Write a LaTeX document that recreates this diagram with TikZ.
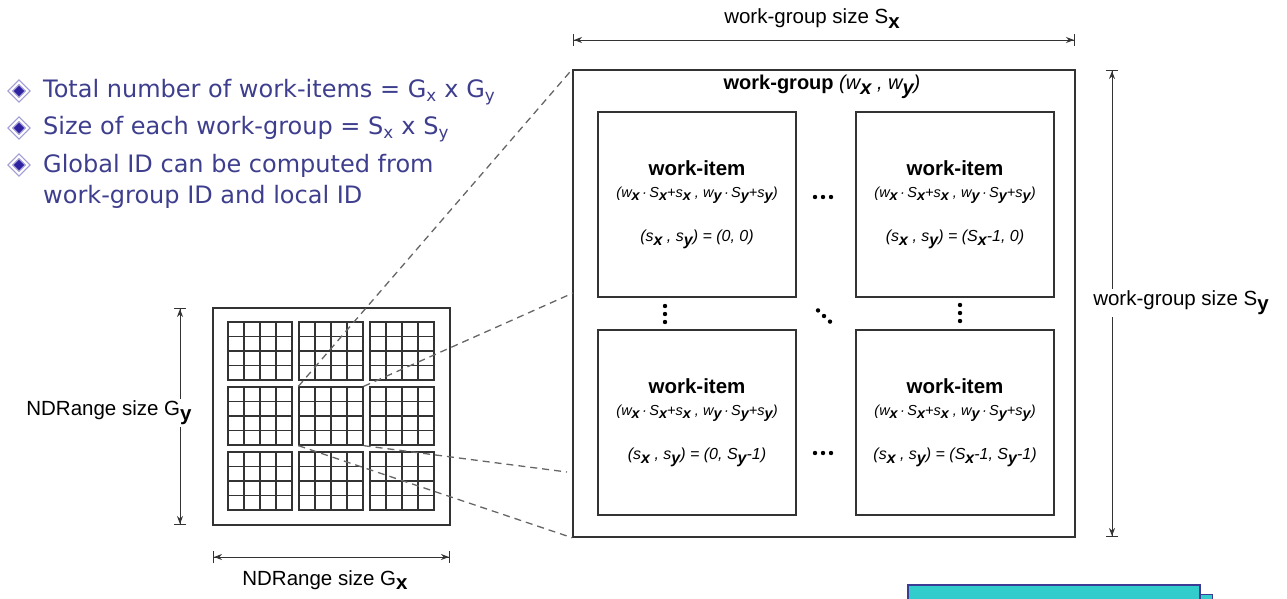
\documentclass[tikz,border=0pt]{standalone}
\usepackage{fontspec}
\setmainfont{Liberation Sans}
\newfontfamily\bulletfont{DejaVu Sans}
\usetikzlibrary{arrows.meta,shapes.geometric}
\definecolor{Ink}{HTML}{333333}
\definecolor{Bullet}{HTML}{3E3E8E}
\definecolor{Mark}{HTML}{2E22A0}
\definecolor{Note}{HTML}{33CCCC}
\definecolor{NoteEdge}{HTML}{3B3B95}
\newcommand\lo[1]{\raisebox{-0.45ex}{\bfseries #1}}
\newcommand\globalid{(w\lo{x}\,·\,S\lo{x}+s\lo{x} , w\lo{y}\,·\,S\lo{y}+s\lo{y})}
\newcommand\witext[1]{{\fontsize{20.5}{21}\selectfont\bfseries work-item}\\[7pt]{\itshape\globalid}\\[25pt]{\fontsize{16}{17}\selectfont\itshape (s\lo{x} , s\lo{y}) = #1}}

\begin{document}
\begin{tikzpicture}[x=1pt,y=-1pt,
  wibox/.style={draw=Ink,line width=1.5pt,minimum width=198pt,minimum height=185pt,inner sep=0pt,align=center,font=\fontsize{14.5}{15}\selectfont},
  blk/.style={draw=Ink,line width=1.3pt,minimum width=64pt,minimum height=58pt,inner sep=0pt},
  cell/.style={draw=Ink,line width=1.1pt},
  dim/.style={{Bar[width=12pt]Stealth[length=8pt,width=6pt]}-{Stealth[length=8pt,width=6pt]Bar[width=12pt]},line width=1pt,draw=Ink},
  zoomline/.style={dash pattern=on 7pt off 5pt,line width=1.3pt,draw=Ink!75},
  dimlabel/.style={font=\fontsize{20.5}{23}\selectfont,fill=white,inner sep=2pt},
  bulletmark/.style={diamond,fill=Mark,draw=Mark!45,double=white,double distance=2pt,line width=1.3pt,minimum size=18pt,inner sep=0pt},
  bullet/.style={anchor=west,text=Bullet,font=\bulletfont\fontsize{24}{31}\selectfont,align=left,inner sep=0pt}]
  \useasboundingbox (0,0) rectangle (1287,598);
  \clip (0,0) rectangle (1287,598);
  \node[bulletmark] (m1) at (19,91) {};
  \node[bullet] (t1) at (43,92) {Total number of work-items = G\textsubscript{x} x G\textsubscript{y}};
  \node[bulletmark] (m2) at (19,128) {};
  \node[bullet] (t2) at (43,129) {Size of each work-group = S\textsubscript{x} x S\textsubscript{y}};
  \node[bulletmark] (m3) at (19,165) {};
  \node[bullet] (t3) at (43,181.5) {Global ID can be computed from\\work-group ID and local ID};
  \node[draw=Ink,line width=1.3pt,minimum width=237pt,minimum height=217pt] (nd) at (331.5,416.5) {};
  \foreach \i in {0,1,2} \foreach \j in {0,1,2} {
    \node[blk] (b\i\j) at ({260+71*\i},{351+65*\j}) {};
    \foreach \k in {1,2,3} {
      \draw[cell] ({228+71*\i+16*\k},{322+65*\j}) -- ++(0,58);
      \draw[cell] ({228+71*\i},{322+65*\j+14.5*\k}) -- ++(64,0);
    }
  }
  \node[draw=Ink,line width=1.5pt,minimum width=502pt,minimum height=467pt] (wg) at (824,303.5) {};
  \node[font=\fontsize{20}{22}\selectfont] (wgt) at (822,87) {\textbf{work-group} \textit{(w\lo{x} , w\lo{y})}};
  \node[wibox] (wi00) at (697,204.5) {\witext{(0, 0)}};
  \node[wibox] (wi10) at (955,204.5) {\witext{(S\lo{x}-1, 0)}};
  \node[wibox] (wi01) at (697,422.5) {\witext{(0, S\lo{y}-1)}};
  \node[wibox] (wi11) at (955,422.5) {\witext{(S\lo{x}-1, S\lo{y}-1)}};
  \foreach \d in {-8,0,8} {
    \fill[black] (823+\d,197) circle (2.2pt);
    \fill[black] (823+\d,453) circle (2.2pt);
    \fill[black] (665,314+\d) circle (2.2pt);
    \fill[black] (960,313+\d) circle (2.2pt);
    \fill[black] (824+0.75*\d,316+0.7*\d) circle (2.2pt);
  }
  \coordinate (zr1) at (573,293);
  \coordinate (zr2) at (567,472);
  \draw[zoomline] (b11.north west) -- (wg.north west);
  \draw[zoomline] (b11.north east) -- (zr1);
  \draw[zoomline] (b11.south east) -- (zr2);
  \draw[zoomline] (b11.south west) -- (wg.south west);
  \coordinate (sx0) at (573,40); \coordinate (sx1) at (1075,40);
  \coordinate (sy0) at (1112,70); \coordinate (sy1) at (1112,537);
  \coordinate (gx0) at (213,557); \coordinate (gx1) at (450,557);
  \coordinate (gy0) at (180,308); \coordinate (gy1) at (180,525);
  \draw[dim] (sx0) -- (sx1);
  \draw[dim] (sy0) -- (sy1);
  \draw[dim] (gx0) -- (gx1);
  \draw[dim] (gy0) -- (gy1);
  \node[dimlabel] (sxl) at (812,19) {work-group size S\lo{x}};
  \node[dimlabel] (syl) at (1181,303) {work-group size S\lo{y}};
  \node[dimlabel] (gxl) at (325,580) {NDRange size G\lo{x}};
  \node[dimlabel] (gyl) at (109,413) {NDRange size G\lo{y}};
  \draw[NoteEdge,fill=Note,line width=1pt] (920,594) rectangle (1212,640);
  \draw[NoteEdge,fill=Note,line width=1.3pt] (908,585) rectangle (1200,640);
\end{tikzpicture}
\end{document}
